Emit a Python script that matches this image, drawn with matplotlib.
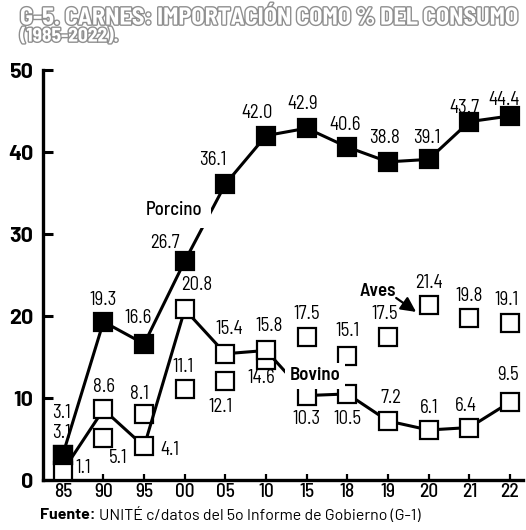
import matplotlib.pyplot as plt
import matplotlib.patheffects as pe

years = ["85", "90", "95", "00", "05", "10", "15", "18", "19", "20", "21", "22"]
porcino = [3.1, 19.3, 16.6, 26.7, 36.1, 42.0, 42.9, 40.6, 38.8, 39.1, 43.7, 44.4]
bovino = [1.1, 8.6, 4.1, 20.8, 15.4, 15.8, 10.3, 10.5, 7.2, 6.1, 6.4, 9.5]
aves = [3.1, 5.1, 8.1, 11.1, 12.1, 14.6, 17.5, 15.1, 17.5, 21.4, 19.8, 19.1]
yticks = [0, 10, 20, 30, 40, 50]

# label offsets in pixels (dx right, dy down) relative to each marker
porcino_off = [(-1, -22), (0, -22), (-6, -26), (-20, -18), (-13, -24), (-9, -23),
               (-4, -24), (-2, -22), (-3, -24), (-2, -21), (-5, -14), (-6, -16)]
bovino_off = [(20, -3), (0, -22), (26, 4), (12, -24), (4, -25), (3, -24),
              (0, 23), (0, 25), (3, -23), (0, -22), (-3, -22), (-2, -27)]
aves_off = [(-1, -42), (15, 20), (-5, -20), (-2, -22), (-5, 26), (-5, 18),
            (0, -23), (0, -25), (-3, -23), (0, -22), (0, -22), (-3, -23)]

SEMI = ["Barlow Semi Condensed", "DejaVu Sans"]
WIDE = ["Barlow", "DejaVu Sans"]
plt.rcParams["font.family"] = SEMI

fig = plt.figure(figsize=(5.26, 5.30), dpi=100)
ax = fig.add_axes([0.0808, 0.0943, 0.9135, 0.7736])

x = list(range(len(years)))
ms = 13
ax.plot(x, aves, linestyle="none", marker="s", ms=ms, mfc="white",
        mec="black", mew=1.6, zorder=3)
ax.plot(x, bovino, color="black", lw=2.2, marker="s", ms=ms, mfc="white",
        mec="black", mew=1.6, zorder=4)
ax.plot(x, porcino, color="black", lw=2.2, marker="s", ms=ms, mfc="black",
        mec="black", mew=1.6, zorder=5)

px = 0.72
for vals, offs in [(porcino, porcino_off), (bovino, bovino_off), (aves, aves_off)]:
    for i, (v, (dx, dy)) in enumerate(zip(vals, offs)):
        ax.annotate(f"{v:.1f}", (i, v), xytext=(dx * px, -dy * px),
                    textcoords="offset points", ha="center", va="center",
                    fontsize=13.5, zorder=6)

box = dict(boxstyle="square,pad=0.25", fc="white", ec="none")
ax.text(2.74, 32.9, "Porcino", ha="center", va="center", fontsize=13.5,
        fontweight="medium", zorder=6,
        bbox=dict(boxstyle="square,pad=0.45", fc="white", ec="none"))
ax.text(6.21, 12.7, "Bovino", ha="center", va="center", fontsize=13.5,
        fontweight="semibold", zorder=6, bbox=box)
ax.text(7.76, 23.0, "Aves", ha="center", va="center", fontsize=13.5,
        fontweight="semibold", zorder=6)
ax.annotate("", xy=(8.69, 20.5), xytext=(8.2, 22.2),
            arrowprops=dict(arrowstyle="-|>,head_length=0.9,head_width=0.45",
                            color="black", lw=1.6, shrinkA=0, shrinkB=0),
            zorder=6)

ax.set_xlim(-0.5, 11.32)
ax.set_ylim(0, 50)
ax.set_xticks(x)
ax.set_xticklabels(years, fontsize=14, fontweight="medium")
ax.set_yticks(yticks)
ax.set_yticklabels([str(t) for t in yticks], fontsize=15.5, fontweight="bold",
                   family=WIDE)
ax.tick_params(axis="y", direction="in", length=7.5, width=2.2, pad=6.5)
ax.tick_params(axis="x", direction="in", length=4.5, width=1.6, pad=2)
for s in ["top", "right"]:
    ax.spines[s].set_visible(False)
for s in ["left", "bottom"]:
    ax.spines[s].set_linewidth(2.4)

fx = pe.withStroke(linewidth=2.0, foreground="#8f8f8f")
fig.text(20 / 526, 1 - 18.5 / 530, "G-5. CARNES: IMPORTACIÓN COMO % DEL CONSUMO",
         ha="left", va="center", fontsize=17.5, fontweight="bold", color="white",
         path_effects=[fx])
fig.text(20 / 526, 1 - 37 / 530, "(1985-2022).", ha="left", va="center",
         fontsize=14, fontweight="bold", color="white", path_effects=[fx])

t1 = fig.text(40 / 526, 1 - 515 / 530, "Fuente:", ha="left", va="center",
              fontsize=11.5, fontweight="bold", family=WIDE)
fig.canvas.draw()
bb = t1.get_window_extent()
fig.text((bb.x1 + 3) / 526, 1 - 515 / 530,
         "UNITÉ c/datos del 5o Informe de Gobierno (G-1)", ha="left",
         va="center", fontsize=11.5, family=WIDE)

fig.savefig("out.png", dpi=100)
